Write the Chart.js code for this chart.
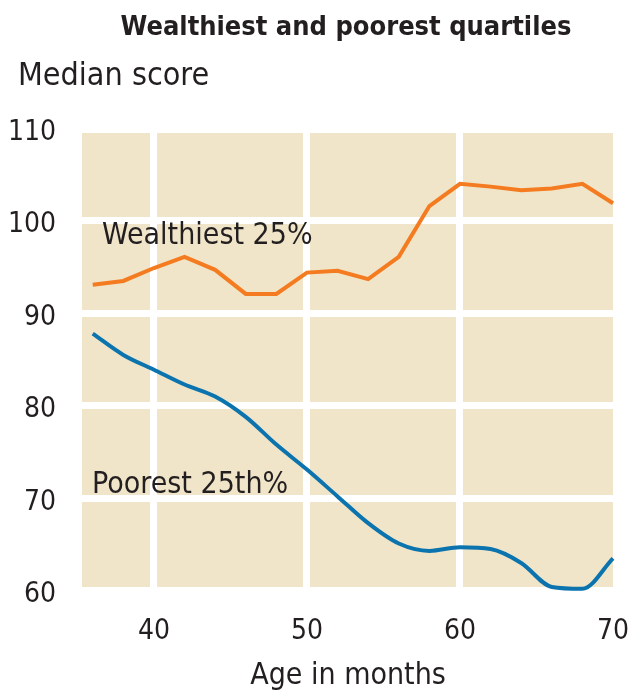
<!DOCTYPE html>
<html>
<head>
<meta charset="utf-8">
<script src="https://cdn.jsdelivr.net/npm/chart.js@4"></script>
<style>
  html, body { margin: 0; padding: 0; background: #fff; }
</style>
</head>
<body>
<canvas id="chart" width="636" height="692"></canvas>
<script>
// data
const months = [36, 38, 40, 42, 44, 46, 48, 50, 52, 54, 56, 58, 60, 62, 64, 66, 68, 70];
const wealthiest = [93.1, 93.5, 94.9, 96.1, 94.7, 92.1, 92.1, 94.4, 94.6, 93.7, 96.1, 101.6, 104.0, 103.7, 103.3, 103.5, 104.0, 101.9];
const poorest = [87.8, 85.5, 83.9, 82.3, 81.0, 78.8, 75.8, 73.1, 70.2, 67.3, 65.1, 64.3, 64.7, 64.5, 63.0, 60.4, 60.2, 63.5];
const xTicks = [40, 50, 60, 70];
const yTicks = [60, 70, 80, 90, 100, 110];

const FONT = '"Liberation Sans Narrow", "DejaVu Sans Condensed", "Liberation Sans", sans-serif';
const INK = "#231f20";

const toPoints = (ys) => ys.map((y, i) => ({ x: months[i], y }));

// beige plot panel + all the free text
const decor = {
  id: "decor",
  beforeDraw(chart) {
    const { ctx, chartArea: a } = chart;
    ctx.save();
    ctx.fillStyle = "#f0e5c8";
    ctx.fillRect(a.left, a.top, a.right - a.left, a.bottom - a.top);
    ctx.restore();
  },
  afterDraw(chart) {
    const ctx = chart.ctx;
    ctx.save();
    ctx.fillStyle = INK;
    ctx.textBaseline = "alphabetic";

    ctx.font = "bold 27px " + FONT;
    ctx.textAlign = "center";
    ctx.fillText("Wealthiest and poorest quartiles", 346, 35);

    ctx.font = "32px " + FONT;
    ctx.textAlign = "left";
    ctx.fillText("Median score", 18, 85);

    ctx.font = "30px " + FONT;
    ctx.textAlign = "center";
    ctx.fillText("Age in months", 348, 684);

    ctx.textAlign = "left";
    ctx.fillText("Wealthiest 25%", 102, 244);
    ctx.fillText("Poorest 25th%", 92, 493);
    ctx.restore();
  },
};

new Chart(document.getElementById("chart"), {
  type: "line",
  data: {
    datasets: [
      {
        label: "Wealthiest 25%",
        data: toPoints(wealthiest),
        borderColor: "#f47b20",
        borderWidth: 4,
        pointRadius: 0,
        tension: 0,
        clip: false,
      },
      {
        label: "Poorest 25th%",
        data: toPoints(poorest),
        borderColor: "#0b73ae",
        borderWidth: 4,
        pointRadius: 0,
        cubicInterpolationMode: "monotone",
        clip: false,
      },
    ],
  },
  options: {
    responsive: false,
    animation: false,
    events: [],
    layout: { padding: { top: 133, right: 23, left: 0, bottom: 0 } },
    plugins: { legend: { display: false }, tooltip: { enabled: false } },
    scales: {
      x: {
        type: "linear",
        min: 35.3,
        max: 70,
        afterBuildTicks: (s) => { s.ticks = xTicks.map((v) => ({ value: v })); },
        afterFit: (s) => { s.height = 105; s.paddingLeft = 0; s.paddingRight = 0; },
        border: { display: false },
        grid: {
          color: (c) => (c.tick && c.tick.value === 70 ? "rgba(0,0,0,0)" : "#ffffff"),
          lineWidth: 7,
          drawTicks: false,
        },
        ticks: {
          padding: 28,
          color: INK,
          font: { family: FONT, size: 28 },
          maxRotation: 0,
        },
      },
      y: {
        min: 60.4,
        max: 109.5,
        afterBuildTicks: (s) => { s.ticks = yTicks.map((v) => ({ value: v })); },
        afterFit: (s) => { s.width = 82; s.paddingTop = 0; s.paddingBottom = 0; },
        border: { display: false },
        grid: { color: "#ffffff", lineWidth: 7, drawTicks: false },
        ticks: {
          padding: 26,
          labelOffset: 4,
          color: INK,
          font: { family: FONT, size: 28 },
        },
      },
    },
  },
  plugins: [decor],
});
</script>
</body>
</html>
